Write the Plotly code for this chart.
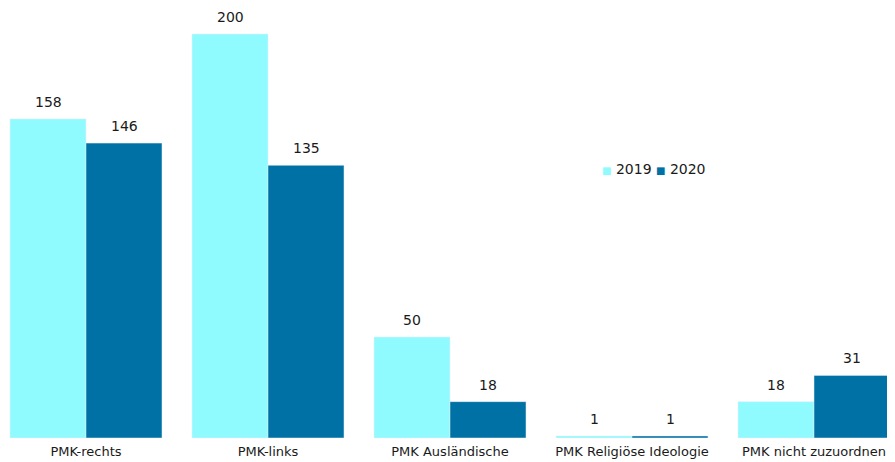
import plotly.graph_objects as go

categories = ["PMK-rechts", "PMK-links", "PMK Ausländische", "PMK Religiöse Ideologie", "PMK nicht zuzuordnen"]
values_2019 = [158, 200, 50, 1, 18]
values_2020 = [146, 135, 18, 1, 31]

COLOR_2019 = "#90FBFF"
COLOR_2020 = "#0071A4"
FONT = "DejaVu Sans"
TEXT = "#1a1a1a"

fig = go.Figure()
fig.add_trace(go.Bar(name="2019", x=categories, y=values_2019, marker_color=COLOR_2019))
fig.add_trace(go.Bar(name="2020", x=categories, y=values_2020, marker_color=COLOR_2020))

# value labels above each bar (half a bar width left / right of the category centre)
for vals, shift in [(values_2019, -38), (values_2020, 38)]:
    for cat, v in zip(categories, vals):
        fig.add_annotation(x=cat, y=v, text=str(v), showarrow=False, xshift=shift, yshift=17,
                           yanchor="middle", font=dict(size=14, color=TEXT, family=FONT))

# compact legend like the original
sq = "<span style='font-size:10px;color:{}'>■</span>"
fig.add_annotation(
    xref="paper", yref="paper", x=0.661, y=0.626, xanchor="left", yanchor="middle", showarrow=False,
    text=sq.format(COLOR_2019) + " 2019 " + sq.format(COLOR_2020) + " 2020",
    font=dict(size=14, color=TEXT, family=FONT),
)

fig.update_layout(
    width=895, height=462,
    barmode="group", bargap=0.165, bargroupgap=0,
    plot_bgcolor="white", paper_bgcolor="white",
    margin=dict(l=0, r=0, t=0, b=32),
    font=dict(family=FONT, size=13, color=TEXT),
    showlegend=False,
)
fig.update_xaxes(range=[-0.4286, 4.489], showline=False, showgrid=False, ticks="",
                 automargin=False, ticklabelstandoff=4,
                 tickfont=dict(size=13, color=TEXT))
fig.update_yaxes(range=[0, 212.9], visible=False)

fig.write_html("out.html")
